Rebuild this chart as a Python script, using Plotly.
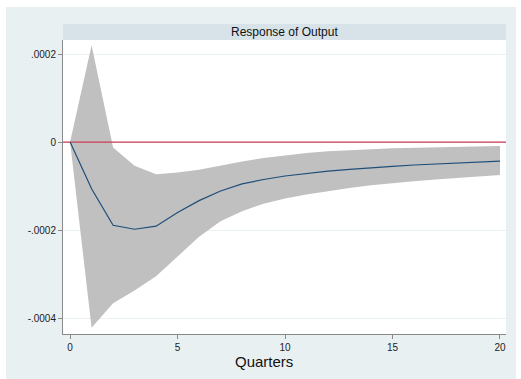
import plotly.graph_objects as go

# Impulse-response horizon (quarters)
quarters = list(range(21))

# Point estimate of the response of output
irf = [0.0, -0.000106, -0.000189, -0.000198, -0.000191, -0.000160, -0.000133,
       -0.000111, -0.000095, -0.000085, -0.000077, -0.000071, -0.000066,
       -0.000062, -0.000058, -0.000055, -0.000052, -0.000050, -0.000048,
       -0.000045, -0.000043]

# Confidence band
upper = [0.0, 0.000220, -0.000012, -0.000054, -0.000073, -0.000069, -0.000063,
         -0.000053, -0.000044, -0.000036, -0.000030, -0.000025, -0.000021,
         -0.000018, -0.000016, -0.000014, -0.000013, -0.000012, -0.000011,
         -0.000010, -0.000009]
lower = [0.0, -0.000422, -0.000366, -0.000337, -0.000305, -0.000260, -0.000215,
         -0.000180, -0.000157, -0.000140, -0.000128, -0.000119, -0.000111,
         -0.000104, -0.000098, -0.000093, -0.000089, -0.000085, -0.000081,
         -0.000078, -0.000075]

y_tick_vals = [0.0002, 0.0, -0.0002, -0.0004]
y_tick_text = [".0002", "0", "-.0002", "-.0004"]
x_tick_vals = [0, 5, 10, 15, 20]

panel_title = "Response of Output"
x_title = "Quarters"

BG = "#e9f0f2"
STRIP = "#d7e3e9"
AXIS = "#8a8a8a"

fig = go.Figure()

# shaded band: lower bound then upper bound filled to it
fig.add_trace(go.Scatter(x=quarters, y=lower, mode="lines",
                         line=dict(width=0, color="#c0c0c0"),
                         hoverinfo="skip", showlegend=False))
fig.add_trace(go.Scatter(x=quarters, y=upper, mode="lines",
                         line=dict(width=0, color="#c0c0c0"),
                         fill="tonexty", fillcolor="#c0c0c0",
                         hoverinfo="skip", showlegend=False))
# zero reference line
fig.add_trace(go.Scatter(x=[-0.33, 20.28], y=[0, 0], mode="lines",
                         line=dict(width=1.2, color="#cf3a55"),
                         hoverinfo="skip", showlegend=False))
# response
fig.add_trace(go.Scatter(x=quarters, y=irf, mode="lines",
                         line=dict(width=1.2, color="#1f4e79"),
                         showlegend=False))

plot_h = 294.0
plot_w = 443.0

shapes = [
    # graph region background
    dict(type="rect", xref="paper", yref="paper", layer="below",
         x0=(6 - 63) / plot_w, x1=(516 - 63) / plot_w,
         y0=(334 - 380) / plot_h, y1=(334 - 7) / plot_h,
         fillcolor=BG, line=dict(width=0)),
    # white plot region
    dict(type="rect", xref="paper", yref="paper", layer="below",
         x0=0, x1=1, y0=0, y1=1, fillcolor="white", line=dict(width=0)),
    # panel title strip
    dict(type="rect", xref="paper", yref="paper", layer="below",
         x0=0, x1=1, y0=1, y1=1 + 16 / plot_h,
         fillcolor=STRIP, line=dict(width=0)),
]

annotations = [
    dict(text=panel_title, xref="paper", yref="paper", x=0.5,
         y=1 + 8 / plot_h, showarrow=False, xanchor="center", yanchor="middle",
         font=dict(family="Liberation Sans, Arial", size=12, color="#111")),
    dict(text=x_title, xref="paper", yref="paper", x=(264 - 63) / plot_w,
         y=(334 - 361) / plot_h, showarrow=False, xanchor="center",
         yanchor="middle",
         font=dict(family="Liberation Sans, Arial", size=15, color="#111")),
]

fig.update_layout(
    width=521, height=379,
    margin=dict(l=63, r=15, t=40, b=45),
    paper_bgcolor="white",
    plot_bgcolor="white",
    shapes=shapes,
    annotations=annotations,
    font=dict(family="Liberation Sans, Arial", size=10, color="#222"),
    xaxis=dict(range=[-0.33, 20.28], tickvals=x_tick_vals,
               showgrid=False, zeroline=False, showline=True,
               linecolor=AXIS, linewidth=1, ticks="outside", ticklen=4,
               tickcolor=AXIS, tickfont=dict(size=10)),
    yaxis=dict(range=[-0.000436, 0.000232], tickvals=y_tick_vals,
               ticktext=y_tick_text, showgrid=True, gridcolor="#eaf1f3",
               gridwidth=1, zeroline=False, showline=True, linecolor=AXIS,
               linewidth=1, ticks="outside", ticklen=4, tickcolor=AXIS,
               tickfont=dict(size=10)),
)

fig.write_html("out.html")
